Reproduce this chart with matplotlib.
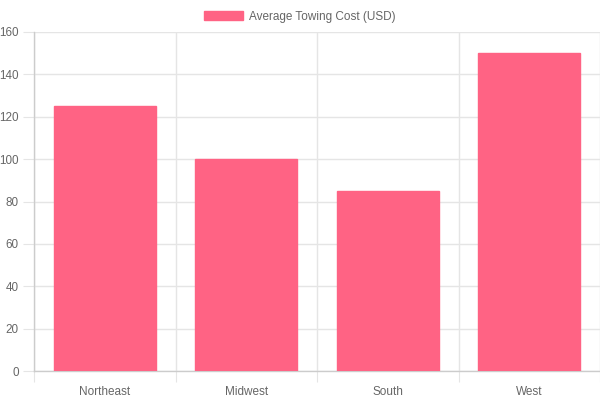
import numpy as np
import matplotlib
matplotlib.use('Agg')
import matplotlib.pyplot as plt

regions = ['Northeast', 'Midwest', 'South', 'West']
costs = [125, 100, 85, 150]
legend_label = 'Average Towing Cost (USD)'

bar_color = '#FF6384'
grid_color = '#e5e5e5'
text_color = '#666666'

plt.rcParams['font.family'] = ['Liberation Sans', 'DejaVu Sans']

fig = plt.figure(figsize=(6, 4), dpi=100)
ax = fig.add_axes([34 / 600, 29 / 400, 566 / 600, 339 / 400])

x = np.arange(len(regions))
ax.bar(x, costs, width=0.72, color=bar_color, edgecolor=bar_color,
       linewidth=1, zorder=3)

ax.set_xlim(-0.5, len(regions) - 0.5)
ax.set_ylim(0, 160)
ax.set_yticks(np.arange(0, 161, 20))

# gridlines at category boundaries, labels at the centres
ax.set_xticks(np.arange(len(regions) + 1) - 0.5)
ax.set_xticklabels([])
ax.set_xticks(x, minor=True)
ax.set_xticklabels(regions, minor=True)
ax.tick_params(axis='x', which='minor', length=0, pad=11,
               labelsize=8.5, labelcolor=text_color)
ax.tick_params(axis='x', which='major', length=8, color=grid_color)
ax.tick_params(axis='y', length=8, color=grid_color, pad=3,
               labelsize=8.4, labelcolor=text_color)

ax.grid(True, which='major', color=grid_color, linewidth=1, zorder=0)
for side in ['top', 'right']:
    ax.spines[side].set_visible(False)
for side in ['left', 'bottom']:
    ax.spines[side].set_color('#cccccc')
    ax.spines[side].set_linewidth(1)

leg = ax.legend([plt.Rectangle((0, 0), 1, 1, color=bar_color)], [legend_label],
                loc='lower center', bbox_to_anchor=(0.5 - 34 / 566 / 2, 1.0),
                frameon=False, fontsize=8.5, handlelength=3.3, handleheight=0.9,
                handletextpad=0.5, borderaxespad=0.4)
for t in leg.get_texts():
    t.set_color(text_color)

fig.savefig('out.png', dpi=100)
